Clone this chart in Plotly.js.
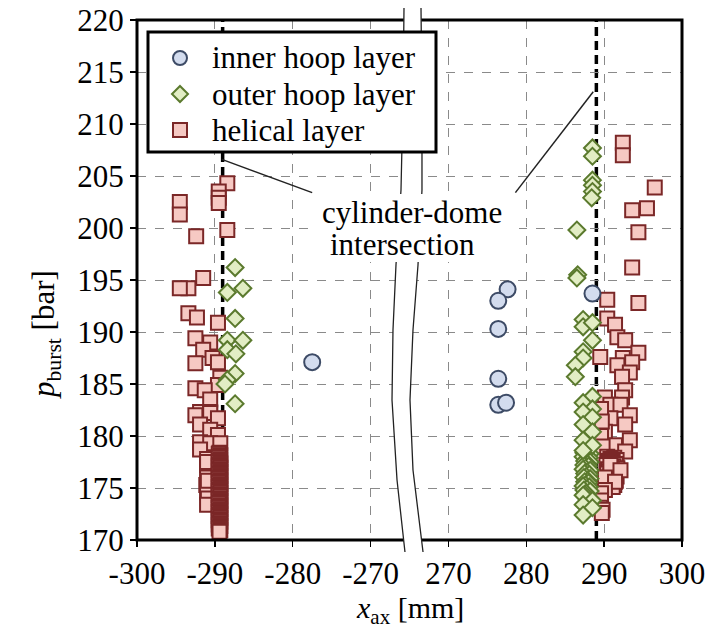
<!DOCTYPE html>
<html><head><meta charset="utf-8">
<script src="https://cdn.plot.ly/plotly-3.0.1.min.js"></script>
<style>html,body{margin:0;padding:0;background:#fff}#chart{width:720px;height:629px}</style>
</head><body><div id="chart"></div>
<script>
// ---- data (x_ax in mm, p_burst in bar) ----
const innerX = [-277.5, 277.6, 276.4, 276.4, 276.4, 276.4, 277.4, 288.5];
const innerY = [187.1, 194.1, 193.0, 190.3, 185.5, 183.0, 183.2, 193.7];

// outer hoop layer: dense right cluster first, then the scattered points
const outerX = [
  287.4,288.2,287.8,287.3,288.1,287.7,287.5,288.2,287.9,287.4,288.0,287.6,287.3,288.2,287.8,287.5,
  288.1,287.7,287.4,288.2,287.9,287.5,288.0,287.6,287.3,288.1,287.8,287.4,288.2,287.7,287.5,
  -287.4,-288.4,-286.4,-287.4,-288.4,-286.4,-288.4,-287.3,-287.4,-288.4,-288.7,-287.4,
  288.5,288.5,288.5,288.5,288.5,288.4,286.5,286.6,286.5,287.3,287.3,288.5,288.5,287.3,287.3,286.3,286.3,
  288.5,287.3,288.5,287.3,288.5,287.3,288.5,287.3,288.5,287.3,
  287.3,288.5,287.3,288.5,287.3];
const outerY = [
  178.4,178.3,178.1,178.0,177.9,177.7,177.6,177.5,177.3,177.2,177.1,176.9,176.8,176.7,176.5,176.4,
  176.3,176.1,176.0,175.9,175.7,175.6,175.5,175.3,175.2,175.1,174.9,174.8,174.7,174.5,174.4,
  196.2,193.8,194.2,191.3,189.2,189.2,188.3,187.9,186.0,185.4,185.0,183.1,
  207.7,206.9,204.6,204.1,203.5,202.9,199.8,195.5,195.2,191.2,190.5,190.9,189.2,188.1,187.5,186.8,185.7,
  183.8,183.2,182.6,182.3,181.8,181.1,180.4,179.6,179.1,178.6,
  174.3,173.8,173.4,173.1,172.4];

// helical layer: left scattered, left dense column, right scattered, right dense cluster
const helicalX = [
  -294.5,-294.5,-292.4,-288.4,-289.5,-289.5,-289.5,-288.4,-291.5,-293.4,-294.5,-293.4,-292.3,-289.6,-292.5,
  -290.6,-291.5,-290.3,-289.6,-292.5,-289.3,-289.6,-292.5,-291.3,-290.6,-291.9,-290.6,-292.5,-290.6,-289.6,
  -291.9,-290.6,-289.6,-291.9,-290.6,-289.3,-291.9,
  -291.0,-291.0,-290.9,-291.0,-291.1,-291.0,-290.9,-291.0,-291.0,-290.9,
  -289.4,-289.5,-289.3,-289.4,-289.5,-289.3,-289.4,-289.5,-289.3,-289.4,-289.5,-289.3,-289.4,-289.5,-289.3,
  -289.4,-289.5,-289.3,-289.4,-289.5,-289.3,-289.4,-289.5,-289.3,-289.4,-289.5,-289.3,-289.4,-289.5,-289.3,
  -289.4,-289.5,-289.3,-289.4,-289.5,-289.3,-289.4,-289.5,-289.3,-289.4,-289.5,-289.3,-289.4,-289.5,-289.3,
  -289.4,-289.5,-289.3,-289.4,-289.5,-289.3,-289.4,-289.5,-289.3,-289.4,-289.5,-289.3,-289.4,
  292.4,292.4,296.5,295.5,293.6,294.4,293.6,290.4,294.4,290.4,291.4,291.7,292.7,294.4,289.5,292.4,291.7,
  293.6,293.3,292.3,292.7,290.1,292.3,290.8,292.1,293.3,290.8,292.7,290.1,293.3,291.4,289.5,292.7,
  289.6,289.7,289.6,289.8,
  290.4,291.3,290.8,291.6,290.5,291.1,290.7,291.5,290.3,291.2,290.9,291.7,290.5,291.0,290.6,291.4,
  290.4,291.2,290.8,291.6,290.3,291.1,290.7,291.5,290.5,291.0,290.9,291.3,290.4,291.1,
  290.8,292.1,290.1,291.4,290.1,289.6,289.6,289.5,289.8,289.7];
const helicalY = [
  202.5,201.3,199.2,204.3,203.5,202.9,202.4,199.8,195.2,194.2,194.2,191.8,191.4,190.9,189.4,
  189.0,188.3,187.5,187.1,187.0,185.6,184.9,184.6,184.4,183.5,182.3,182.3,182.0,182.2,181.7,
  181.1,180.6,180.1,179.4,179.3,179.3,178.7,
  177.8,177.2,176.6,176.0,175.3,174.6,174.0,173.4,177.5,175.7,
  178.4,178.3,178.15,178.0,177.9,177.75,177.6,177.5,177.35,177.2,177.1,176.95,176.8,176.7,176.55,
  176.4,176.3,176.15,176.0,175.9,175.75,175.6,175.5,175.35,175.2,175.1,174.95,174.8,174.7,174.55,
  174.4,174.3,174.15,174.0,173.9,173.75,173.6,173.5,173.35,173.2,173.1,172.95,172.8,172.7,172.55,
  172.4,172.3,172.15,172.0,171.9,171.75,171.6,171.5,171.35,171.2,171.1,170.95,170.8,
  208.2,207.0,203.9,201.9,201.7,199.6,196.2,193.1,192.8,191.3,190.7,189.5,189.2,188.0,187.6,187.5,186.8,
  187.1,186.1,185.7,184.4,183.7,183.7,183.0,183.0,182.0,181.7,181.1,180.4,179.6,179.1,178.2,178.5,
  182.6,181.4,180.0,179.0,
  178.0,177.9,177.8,177.7,177.6,177.5,177.4,177.3,177.2,177.1,177.0,176.9,176.8,176.7,176.6,176.5,
  176.4,176.3,176.2,176.1,176.0,175.9,175.8,175.7,175.6,175.5,175.4,175.3,175.2,175.1,
  177.2,176.7,176.0,175.6,174.8,174.5,173.8,173.1,172.9,172.6];

const legendLabels = ['inner hoop layer', 'outer hoop layer', 'helical layer'];
const leftTicks = [-300, -290, -280, -270];
const rightTicks = [270, 280, 290, 300];
const yTicks = [170, 175, 180, 185, 190, 195, 200, 205, 210, 215, 220];
const intersectionX = [-289, 289];

// ---- styling ----
const SERIF = 'Liberation Serif, Times New Roman, serif';
const styles = {
  helical: {name: legendLabels[2], symbol: 'square', size: 14, color: '#f6c9c3', line: '#7b2727', lw: 2},
  outer: {name: legendLabels[1], symbol: 'diamond', size: 13, color: '#e2edc4', line: '#5b7a2e', lw: 2},
  inner: {name: legendLabels[0], symbol: 'circle', size: 16, color: '#d3dcee', line: '#3d4b66', lw: 2}
};

function split(xs, ys, neg) {
  const ox = [], oy = [];
  xs.forEach((v, i) => { if ((v < 0) === neg) { ox.push(v); oy.push(ys[i]); } });
  return [ox, oy];
}
function makeTraces(xs, ys, st) {
  const [lx, ly] = split(xs, ys, true);
  const [rx, ry] = split(xs, ys, false);
  const marker = {symbol: st.symbol, size: st.size, color: st.color, line: {color: st.line, width: st.lw}};
  return [
    {x: lx, y: ly, xaxis: 'x', yaxis: 'y', type: 'scatter', mode: 'markers', name: st.name, marker, showlegend: false},
    {x: rx, y: ry, xaxis: 'x2', yaxis: 'y', type: 'scatter', mode: 'markers', name: st.name, marker, showlegend: false}
  ];
}
const data = [
  ...makeTraces(helicalX, helicalY, styles.helical),
  ...makeTraces(outerX, outerY, styles.outer),
  ...makeTraces(innerX, innerY, styles.inner)
];

// paper coordinate helpers for decorations (pixel -> paper)
const L = 137, R = 682, T = 20, B = 540;
const px = v => (v - L) / (R - L);
const py = v => (B - v) / (B - T);
const P = (x, y) => px(x).toFixed(4) + ',' + py(y).toFixed(4);
const leftCurve = [[404,8],[403,100],[401,190],[396,265],[393,330],[392,400],[397,480],[405,552]];
const rightCurve = [[421,8],[422,100],[422,190],[418,265],[413,330],[410,400],[413,470],[423,552]];
const toPath = pts => pts.map((p, i) => (i ? 'L' : 'M') + P(p[0], p[1])).join(' ');
const fillPath = toPath(leftCurve) + ' ' + rightCurve.slice().reverse().map(p => 'L' + P(p[0], p[1])).join(' ') + ' Z';

const axisCommon = {
  showline: false, zeroline: false, showgrid: true,
  gridcolor: '#8a8a8a', gridwidth: 1, griddash: 'dash',
  ticks: 'outside', ticklen: 6, tickwidth: 1.5, tickcolor: '#000',
  tickfont: {family: SERIF, size: 31, color: '#000'}, fixedrange: true
};

// legend glyph positions (pixels)
const LG = {x: 180, y: [58, 94, 130], textX: 210};
const st = [styles.inner, styles.outer, styles.helical];

const shapes = [
  {type: 'line', xref: 'x', yref: 'paper', x0: intersectionX[0], x1: intersectionX[0], y0: 0, y1: 1,
   line: {color: '#000', width: 3.5, dash: '9px,5px'}, layer: 'between'},
  {type: 'line', xref: 'x2', yref: 'paper', x0: intersectionX[1], x1: intersectionX[1], y0: 0, y1: 1,
   line: {color: '#000', width: 3.5, dash: '9px,5px'}, layer: 'between'},
  {type: 'rect', xref: 'paper', yref: 'paper', x0: 0, x1: 1, y0: 0, y1: 1, line: {color: '#000', width: 3}, layer: 'above'},
  {type: 'path', xref: 'paper', yref: 'paper', path: fillPath, fillcolor: '#fff', line: {width: 0}, layer: 'above'},
  {type: 'path', xref: 'paper', yref: 'paper', path: toPath(leftCurve), line: {color: '#222', width: 1.3}, layer: 'above'},
  {type: 'path', xref: 'paper', yref: 'paper', path: toPath(rightCurve), line: {color: '#222', width: 1.3}, layer: 'above'},
  {type: 'line', xref: 'x', yref: 'y', x0: -289.1, y0: 206.6, x1: -277.5, y1: 203.4, line: {color: '#222', width: 1.5}, layer: 'above'},
  {type: 'line', xref: 'x2', yref: 'y', x0: 288.6, y0: 213.1, x1: 278.6, y1: 203.4, line: {color: '#222', width: 1.5}, layer: 'above'},
  // white background behind annotation text
  {type: 'rect', xref: 'paper', yref: 'paper', x0: px(313), x1: px(519), y0: py(262), y1: py(194),
   fillcolor: '#fff', line: {width: 0}, layer: 'above'},
  // legend frame
  {type: 'rect', xref: 'paper', yref: 'paper', x0: px(148), x1: px(436), y0: py(152), y1: py(32),
   fillcolor: '#fff', line: {color: '#000', width: 3}, layer: 'above'},
  // legend glyphs
  {type: 'circle', xref: 'paper', yref: 'paper', x0: px(LG.x - 7), x1: px(LG.x + 7), y0: py(LG.y[0] + 7), y1: py(LG.y[0] - 7),
   fillcolor: st[0].color, line: {color: st[0].line, width: 2}, layer: 'above'},
  {type: 'path', xref: 'paper', yref: 'paper',
   path: 'M' + P(LG.x, LG.y[1] - 8) + ' L' + P(LG.x + 8, LG.y[1]) + ' L' + P(LG.x, LG.y[1] + 8) + ' L' + P(LG.x - 8, LG.y[1]) + ' Z',
   fillcolor: st[1].color, line: {color: st[1].line, width: 2}, layer: 'above'},
  {type: 'rect', xref: 'paper', yref: 'paper', x0: px(LG.x - 7), x1: px(LG.x + 7), y0: py(LG.y[2] + 7), y1: py(LG.y[2] - 7),
   fillcolor: st[2].color, line: {color: st[2].line, width: 2}, layer: 'above'}
];

const annotations = [
  {xref: 'paper', yref: 'paper', x: px(320), y: py(212), xanchor: 'left', yanchor: 'middle', showarrow: false,
   text: 'cylinder-dome', font: {family: SERIF, size: 31, color: '#000'}},
  {xref: 'paper', yref: 'paper', x: px(328), y: py(244), xanchor: 'left', yanchor: 'middle', showarrow: false,
   text: 'intersection', font: {family: SERIF, size: 31, color: '#000'}},
  {xref: 'paper', yref: 'paper', x: px(410), y: py(610), xanchor: 'center', yanchor: 'middle', showarrow: false,
   text: '<i>x</i><sub>ax</sub> [mm]', font: {family: SERIF, size: 30, color: '#000'}},
  {xref: 'paper', yref: 'paper', x: px(46), y: py(335), xanchor: 'center', yanchor: 'middle', showarrow: false,
   textangle: -90, text: '<i>p</i><sub>burst</sub> [bar]', font: {family: SERIF, size: 31, color: '#000'}},
  ...legendLabels.map((t, i) => ({xref: 'paper', yref: 'paper', x: px(LG.textX), y: py(LG.y[i]), xanchor: 'left', yanchor: 'middle',
   showarrow: false, text: t, font: {family: SERIF, size: 31, color: '#000'}}))
];

const layout = {
  width: 720, height: 629,
  margin: {l: L, r: 720 - R, t: T, b: 629 - B, pad: 0},
  paper_bgcolor: '#fff', plot_bgcolor: '#fff',
  font: {family: SERIF, color: '#000'},
  xaxis: Object.assign({}, axisCommon, {domain: [0, 0.5], range: [-300, -265], tickvals: leftTicks, ticktext: leftTicks.map(String), anchor: 'y'}),
  xaxis2: Object.assign({}, axisCommon, {domain: [0.5, 1], range: [265, 300], tickvals: rightTicks, ticktext: rightTicks.map(String), anchor: 'y'}),
  yaxis: Object.assign({}, axisCommon, {range: [170, 220], tickvals: yTicks, ticktext: yTicks.map(String)}),
  shapes, annotations, showlegend: false
};

Plotly.newPlot('chart', data, layout, {staticPlot: true, displayModeBar: false});
</script></body></html>
